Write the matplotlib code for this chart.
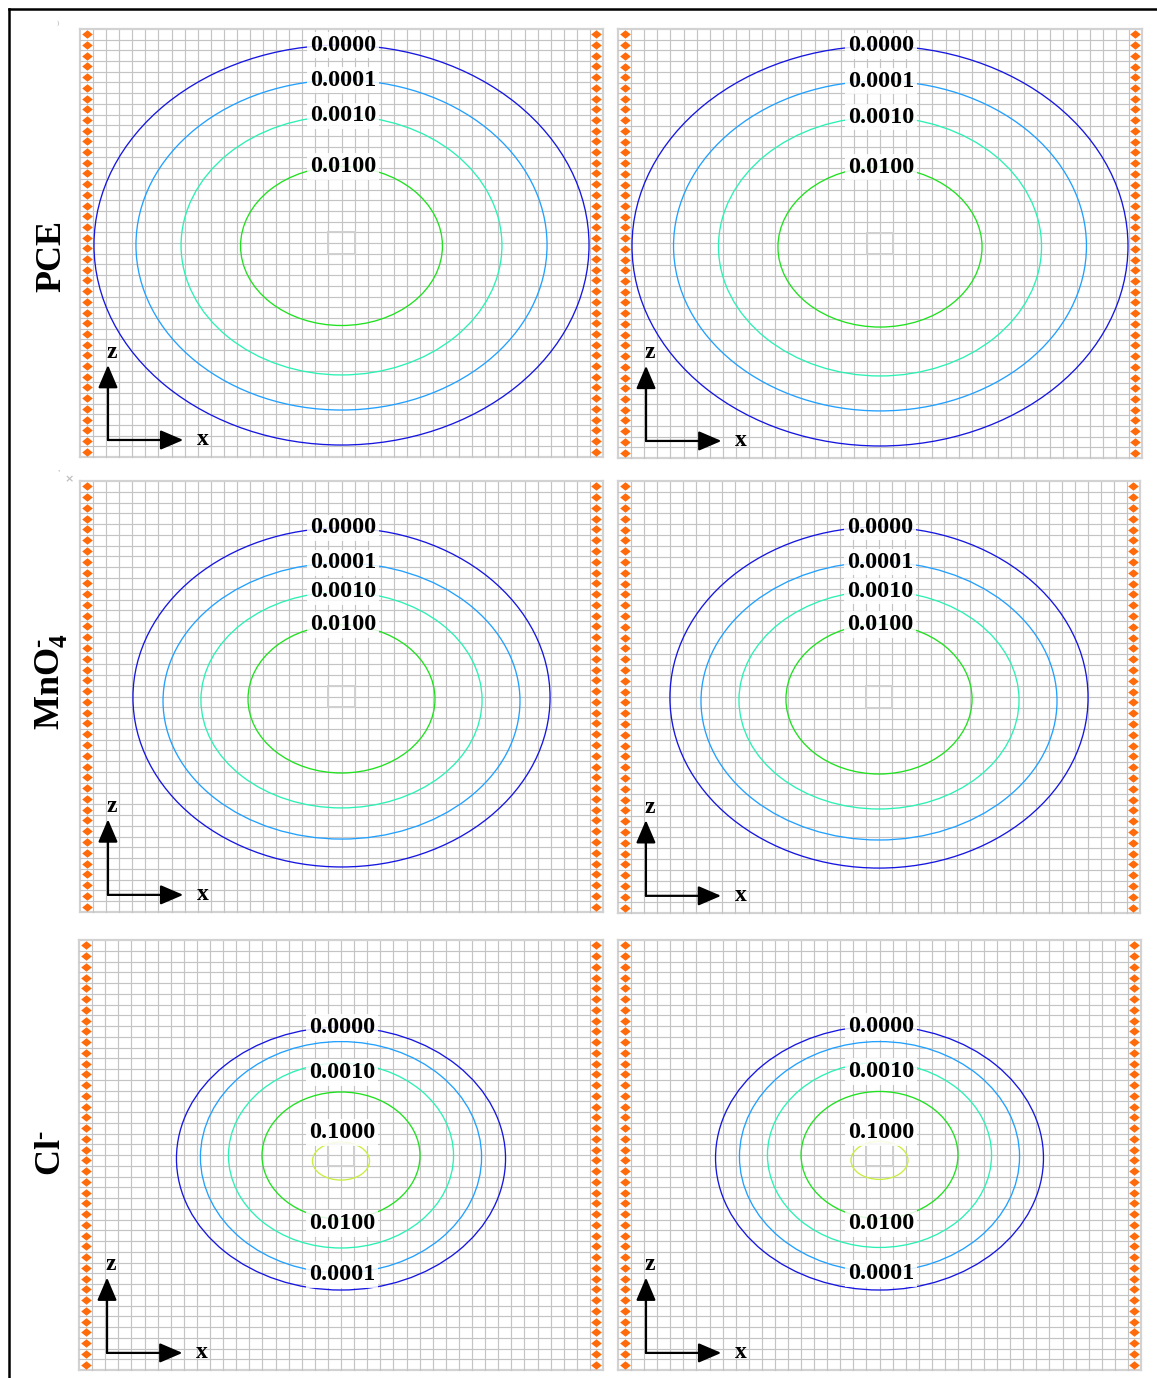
import numpy as np
import matplotlib
matplotlib.use('Agg')
import matplotlib.pyplot as plt
from matplotlib.patches import Ellipse, Rectangle
from matplotlib.lines import Line2D
from matplotlib.path import Path

# contour levels and colours
pce_levels = ['0.0000', '0.0001', '0.0010', '0.0100']
cl_levels = ['0.0000', '0.0001', '0.0010', '0.0100', '0.1000']
level_colors = {'0.0000': '#1616e0', '0.0001': '#22a0ff', '0.0010': '#2cf0b4',
                '0.0100': '#20e020', '0.1000': '#c8ee40'}

# contour half widths (a), half heights (b) and centre heights (zc), in grid cells
pce_left_a = [18.93, 15.72, 12.27, 7.72]
pce_left_b = [18.69, 15.42, 12.10, 7.43]
pce_left_zc = [19.81, 19.81, 19.77, 19.72]
pce_right_a = [18.93, 15.76, 12.33, 7.79]
pce_right_b = [18.65, 15.38, 12.07, 7.46]
pce_right_zc = [19.77, 19.77, 19.72, 19.67]

mno4_left_a = [15.95, 13.65, 10.75, 7.15]
mno4_left_b = [15.73, 12.81, 10.02, 6.87]
mno4_left_zc = [19.91, 19.58, 19.68, 19.77]
mno4_right_a = [16.02, 13.64, 10.73, 7.13]
mno4_right_b = [15.79, 12.87, 10.09, 6.94]
mno4_right_zc = [19.95, 19.63, 19.72, 19.81]

cl_left_a = [12.56, 10.73, 8.59, 6.03, 2.18]
cl_left_b = [12.23, 10.75, 8.60, 5.91, 1.77]
cl_left_zc = [19.67, 19.80, 19.95, 19.95, 19.44]
cl_right_a = [12.54, 10.71, 8.57, 6.00, 2.18]
cl_right_b = [12.28, 10.70, 8.60, 5.91, 1.77]
cl_right_zc = [19.72, 19.85, 20.00, 20.00, 19.50]

row_names = ['PCE', r'MnO$_4^{\text{-}}$', r'Cl$^{\text{-}}$']

n_cells = 40

W, H = 1157, 1378
plt.rcParams['font.family'] = ['Liberation Serif', 'DejaVu Serif']
plt.rcParams['font.weight'] = 'bold'
plt.rcParams['mathtext.fontset'] = 'custom'
plt.rcParams['mathtext.rm'] = 'Liberation Serif:bold'
plt.rcParams['mathtext.it'] = 'Liberation Serif:bold'
plt.rcParams['mathtext.bf'] = 'Liberation Serif:bold'

fig = plt.figure(figsize=(W / 100, H / 100), dpi=100)


def px_axes(l, t, r, b):
    return fig.add_axes([l / W, 1 - b / H, (r - l) / W, (b - t) / H])


diamond = Path([(-1, 0), (0, 0.8), (1, 0), (0, -0.8), (-1, 0)],
               [Path.MOVETO, Path.LINETO, Path.LINETO, Path.LINETO, Path.CLOSEPOLY])


def draw_panel(ax, levels, a, b, zc, label_pos):
    ax.set_xlim(0, n_cells)
    ax.set_ylim(0, n_cells)
    ax.axis('off')
    for k in range(n_cells + 1):
        edge = k in (0, n_cells)
        c = '#d2d2d2' if edge else '#c4c4c4'
        w = 1.6 if edge else 0.85
        ax.axvline(k, color=c, lw=w, zorder=1, clip_on=False)
        ax.axhline(k, color=c, lw=w, zorder=1, clip_on=False)
    rows = np.arange(n_cells) + 0.5
    for xm in (0.5, n_cells - 0.5):
        ax.scatter(np.full(n_cells, xm), rows, marker=diamond, s=58,
                   color='#ff6a0a', linewidths=0, zorder=3, clip_on=False)
    ax.add_patch(Rectangle((19, 19), 2, 2, fill=False, ec='#d0d0d0', lw=1.4, zorder=2))
    for lev, ai, bi, zi in zip(levels, a, b, zc):
        ax.add_patch(Ellipse((20, zi), 2 * ai, 2 * bi, fill=False,
                             ec=level_colors[lev], lw=0.95, zorder=4))
    for lev, ai, bi, zi in zip(levels, a, b, zc):
        side, off = label_pos[lev]
        zl = zi + bi + off if side == 'top' else zi - bi + off
        ax.text(20.1, zl, lev, ha='center', va='center', fontsize=17.5,
                fontweight='bold', zorder=6,
                bbox=dict(boxstyle='square,pad=0.12', fc='white', ec='none', alpha=0.85))
    # axis arrows
    ox, oz = 2.14, 1.59
    ap = dict(arrowstyle='-|>,head_length=0.7,head_width=0.3', lw=1.6,
              color='black', shrinkA=0, shrinkB=0, mutation_scale=20)
    ax.annotate('', xy=(ox, 8.6), xytext=(ox, oz), arrowprops=ap, zorder=7)
    ax.annotate('', xy=(7.9, oz), xytext=(ox, oz), arrowprops=ap, zorder=7)
    ax.text(ox + 0.3, 9.8, 'z', ha='center', va='center', fontsize=17, fontweight='bold', zorder=7)
    ax.text(9.4, oz, 'x', ha='center', va='center', fontsize=17, fontweight='bold', zorder=7)


top_labels = {lev: ('top', 0.0) for lev in pce_levels}
cl_labels = {'0.0000': ('top', -0.05), '0.0001': ('bottom', -0.15),
             '0.0010': ('top', -0.85), '0.0100': ('bottom', -0.45),
             '0.1000': ('top', 0.85)}

boxes = [[(80, 29, 603, 457), (618, 29, 1142, 458)],
         [(80, 481, 603, 912), (618, 481, 1140, 913)],
         [(79, 940, 603, 1370), (618, 940, 1141, 1370)]]

panels = [
    [(pce_levels, pce_left_a, pce_left_b, pce_left_zc, top_labels),
     (pce_levels, pce_right_a, pce_right_b, pce_right_zc, top_labels)],
    [(pce_levels, mno4_left_a, mno4_left_b, mno4_left_zc, top_labels),
     (pce_levels, mno4_right_a, mno4_right_b, mno4_right_zc, top_labels)],
    [(cl_levels, cl_left_a, cl_left_b, cl_left_zc, cl_labels),
     (cl_levels, cl_right_a, cl_right_b, cl_right_zc, cl_labels)],
]

for r in range(3):
    for c in range(2):
        ax = px_axes(*boxes[r][c])
        draw_panel(ax, *panels[r][c])

row_y = [256, 682, 1153]
for name, y in zip(row_names, row_y):
    fig.text(52 / W, 1 - y / H, name, rotation=90, ha='center', va='center',
             fontsize=26, fontweight='bold')

# outer frame (left and top edges visible)
fig.add_artist(Line2D([9 / W, 9 / W], [0, 1 - 9 / H], color='black', lw=1.8))
fig.add_artist(Line2D([9 / W, 1], [1 - 9 / H, 1 - 9 / H], color='black', lw=1.8))

# small stray marks
fig.text(58 / W, 1 - 23 / H, ')', fontsize=5, color='#c8c8c8', ha='center', va='center')
fig.text(59 / W, 1 - 474 / H, "'", fontsize=6, color='#b0b0b0', ha='center', va='center')
fig.text(69 / W, 1 - 479 / H, '×', fontsize=8, color='#c0c0c0', ha='center', va='center',
         family='DejaVu Sans')

fig.savefig('out.png', dpi=100)
